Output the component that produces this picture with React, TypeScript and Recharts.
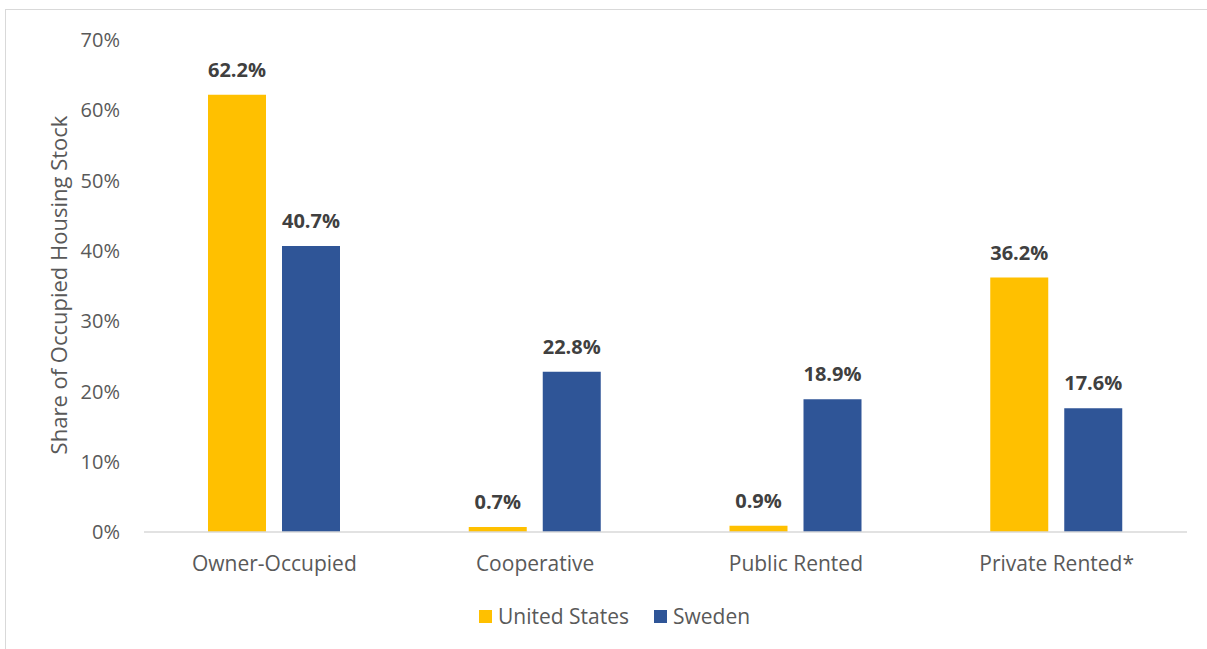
import { BarChart, Bar, XAxis, YAxis, LabelList, Legend } from "recharts";

const CATEGORIES = ["Owner-Occupied", "Cooperative", "Public Rented", "Private Rented*"];
const US_VALUES = [62.2, 0.7, 0.9, 36.2];
const SWEDEN_VALUES = [40.7, 22.8, 18.9, 17.6];
const Y_TICKS = [0, 10, 20, 30, 40, 50, 60, 70];

const US_COLOR = "#FFC000";
const SE_COLOR = "#2F5597";
const TEXT = "#595959";

const data = CATEGORIES.map((name, i) => ({
  name,
  us: US_VALUES[i],
  se: SWEDEN_VALUES[i],
}));

const pct = (v: number) => `${Number(v).toFixed(1)}%`;

function LegendBox() {
  const items = [
    { label: "United States", color: US_COLOR },
    { label: "Sweden", color: SE_COLOR },
  ];
  return (
    <div style={{ display: "flex", alignItems: "center", height: 24 }}>
      {items.map((it) => (
        <div key={it.label} style={{ display: "flex", alignItems: "center", marginRight: 25 }}>
          <span style={{ width: 13, height: 13, background: it.color, marginRight: 6 }} />
          <span style={{ fontSize: 21, color: TEXT }}>{it.label}</span>
        </div>
      ))}
    </div>
  );
}

function YTitle() {
  return (
    <text
      x={58}
      y={285}
      transform="rotate(-90 58 285)"
      textAnchor="middle"
      dominantBaseline="central"
      fill={TEXT}
      fontSize={22}
    >
      Share of Occupied Housing Stock
    </text>
  );
}

export default function App() {
  return (
    <div
      style={{
        position: "absolute",
        left: 0,
        top: 0,
        width: 1207,
        height: 649,
        overflow: "hidden",
        background: "#fff",
        fontFamily: "'Open Sans', sans-serif",
      }}
    >
      <div
        style={{
          position: "absolute",
          left: 5,
          top: 9,
          width: 1240,
          height: 680,
          border: "1px solid #d9d9d9",
        }}
      />
      <BarChart
        width={1207}
        height={649}
        data={data}
        margin={{ top: 40, right: 20, bottom: 53, left: 0 }}
        barSize={58}
        barGap={16}
        style={{ position: "absolute", left: 0, top: 0 }}
      >
        <XAxis
          dataKey="name"
          height={40}
          axisLine={{ stroke: "#d9d9d9", strokeWidth: 1.5 }}
          tickLine={false}
          tickSize={0}
          tickMargin={24}
          tick={{ fill: TEXT, fontSize: 21 }}
        />
        <YAxis
          width={144}
          domain={[0, 70]}
          ticks={Y_TICKS}
          axisLine={false}
          tickLine={false}
          tickSize={0}
          tickMargin={24}
          tickFormatter={(v: number) => `${v}%`}
          tick={{ fill: TEXT, fontSize: 20 }}
          label={<YTitle />}
        />
        <Legend
          content={<LegendBox />}
          wrapperStyle={{ left: 479, top: 604, bottom: "auto", width: 340 }}
        />
        <Bar dataKey="us" name="United States" fill={US_COLOR} isAnimationActive={false}>
          <LabelList
            dataKey="us"
            position="top"
            offset={18}
            formatter={pct}
            fill="#404040"
            fontSize={20}
            fontWeight="bold"
          />
        </Bar>
        <Bar dataKey="se" name="Sweden" fill={SE_COLOR} isAnimationActive={false}>
          <LabelList
            dataKey="se"
            position="top"
            offset={18}
            formatter={pct}
            fill="#404040"
            fontSize={20}
            fontWeight="bold"
          />
        </Bar>
      </BarChart>
    </div>
  );
}
